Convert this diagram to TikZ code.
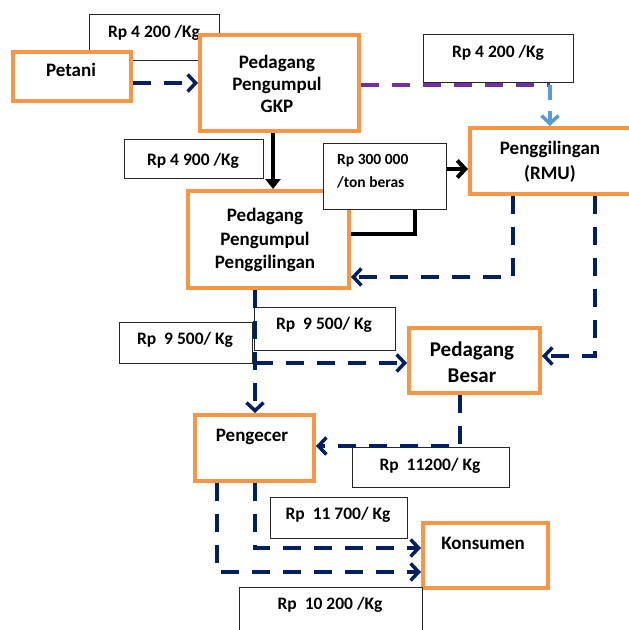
\documentclass[tikz,border=0pt]{standalone}
\usepackage{fontspec}
\setmainfont{Carlito}
\usetikzlibrary{arrows.meta}
\definecolor{navy}{HTML}{002060}
\definecolor{orng}{HTML}{F79646}
\definecolor{purp}{HTML}{7030A0}
\definecolor{lblue}{HTML}{5B9BD5}
\begin{document}
\begin{tikzpicture}[x=1pt,y=-1pt,
 obox/.style={draw=orng, line width=4pt, fill=white, rectangle, anchor=north west, inner sep=0pt},
 lbox/.style={draw=black!85, line width=1.4pt, fill=white, rectangle, anchor=north west, inner sep=0pt},
 ntext/.style={font=\bfseries\fontsize{19}{23}\selectfont, inner sep=0pt, anchor=base},
 btext/.style={font=\bfseries\fontsize{21}{25}\selectfont, inner sep=0pt, anchor=base},
 ltext/.style={font=\bfseries\fontsize{17.5}{21}\selectfont, inner sep=0pt, anchor=base},
 stext/.style={font=\bfseries\fontsize{15.5}{19}\selectfont, inner sep=0pt, anchor=base west},
 nd/.style={draw=navy, line width=3.5pt, dash pattern=on 18pt off 13pt},
 pd/.style={draw=purp, line width=4pt, dash pattern=on 18pt off 13pt},
 bd/.style={draw=lblue, line width=3.5pt, dash pattern=on 15pt off 11pt},
 blk/.style={draw=black, line width=4pt},
 chev/.style={-{Straight Barb[length=8pt,width=17pt]}},
]
\clip (0,0) rectangle (629,630);
\fill[white] (0,0) rectangle (629,630);

% label behind GKP box
\node[lbox, minimum width=130pt, minimum height=46pt] (lA) at (89,14) {};
\node[ltext] (tA) at (154,37.8) {Rp 4 200 /Kg};

% boxes
\node[obox, minimum width=118pt, minimum height=49pt] (petani) at (11,50) {};
\node[obox, minimum width=159pt, minimum height=96pt] (gkp) at (198,33) {};
\node[obox, minimum width=161pt, minimum height=97pt] (pp) at (186,189) {};
\node[obox, minimum width=200pt, minimum height=66pt] (rmu) at (468,126) {};
\node[obox, minimum width=131pt, minimum height=65pt] (besar) at (407,326) {};
\node[obox, minimum width=119pt, minimum height=66pt] (pengecer) at (193,413) {};
\node[obox, minimum width=125pt, minimum height=65pt] (konsumen) at (421,521) {};

% box texts
\node[ntext] (tPetani) at (71,76.3) {Petani};
\node[ntext] (tGkp1) at (277,68.3) {Pedagang};
\node[ntext] (tGkp2) at (277,90.3) {Pengumpul};
\node[ntext] (tGkp3) at (277,112.3) {GKP};
\node[ntext] (tPp1) at (265,221.3) {Pedagang};
\node[ntext] (tPp2) at (265,245.3) {Pengumpul};
\node[ntext] (tPp3) at (265,268.3) {Penggilingan};
\node[ntext] (tRmu1) at (550,154.3) {Penggilingan};
\node[ntext] (tRmu2) at (550,179.3) {(RMU)};
\node[btext] (tBes1) at (472,356) {Pedagang};
\node[btext] (tBes2) at (472,382) {Besar};
\node[ntext] (tPeng) at (252,441.3) {Pengecer};
\node[ntext] (tKons) at (483,549.3) {Konsumen};

% labels
\node[lbox, minimum width=139pt, minimum height=39pt] (lB) at (124,139) {};
\node[ltext] (tB) at (193,165.8) {Rp 4 900 /Kg};
\node[lbox, minimum width=150pt, minimum height=48pt] (lC) at (423,34) {};
\node[ltext] (tC) at (498,57.8) {Rp 4 200 /Kg};
\node[lbox, minimum width=123pt, minimum height=66pt] (l300) at (323,143) {};
\node[stext] (t300a) at (337,164.1) {Rp 300 000};
\node[stext] (t300b) at (337,187.1) {/ton beras};
\node[lbox, minimum width=133pt, minimum height=41pt] (lD) at (119,322) {};
\node[ltext] (tD) at (185,344.8) {Rp~~9 500/ Kg};
\node[lbox, minimum width=141pt, minimum height=43pt] (lE) at (254,307) {};
\node[ltext] (tE) at (324,329.8) {Rp~~9 500/ Kg};
\node[lbox, minimum width=157pt, minimum height=40pt] (lF) at (352,447) {};
\node[ltext] (tF) at (430,470.8) {Rp~~11200/ Kg};
\node[lbox, minimum width=137pt, minimum height=41pt] (lG) at (270,497) {};
\node[ltext] (tG) at (338,519.8) {Rp~~11 700/ Kg};
\node[lbox, minimum width=183pt, minimum height=60pt] (lH) at (239,587) {};
\node[ltext] (tH) at (330,609.8) {Rp~~10 200 /Kg};

% bend coordinates
\coordinate (p1) at (550,85);
\coordinate (p2) at (415,234);
\coordinate (p3) at (513,277);
\coordinate (p4) at (595,356);
\coordinate (p5) at (255,363);
\coordinate (p6) at (460,446);
\coordinate (p7) at (255,548);
\coordinate (p8) at (217,572);
\coordinate (p9) at (0,83);
\coordinate (p10) at (273,0);
\coordinate (p11) at (0,169);

% connectors
\draw[nd,chev] (petani.east |- p9) -- (gkp.west |- p9);
\draw[blk,-{Triangle[length=10pt,width=15pt]}] (gkp.south -| p10) -- (pp.north -| p10);
\draw[pd] (gkp.east |- p1) -- (p1);
\draw[bd,chev] (p1) -- (rmu.north -| p1);
\draw[blk] (pp.east |- p2) -- (p2) -- (l300.south -| p2);
\draw[blk,chev] (l300.east |- p11) -- (rmu.west |- p11);
\draw[nd,chev] (rmu.south -| p3) -- (p3) -- (pp.east |- p3);
\draw[nd,chev] (rmu.south -| p4) -- (p4) -- (besar.east |- p4);
\draw[nd,chev] (pp.south -| p5) -- (pengecer.north -| p5);
\draw[nd,chev] (p5) -- (besar.west |- p5);
\draw[nd,chev] (besar.south -| p6) -- (p6) -- (pengecer.east |- p6);
\draw[nd,chev] (pengecer.south -| p7) -- (p7) -- (konsumen.west |- p7);
\draw[nd,chev] (pengecer.south -| p8) -- (p8) -- (konsumen.west |- p8);
\end{tikzpicture}
\end{document}
